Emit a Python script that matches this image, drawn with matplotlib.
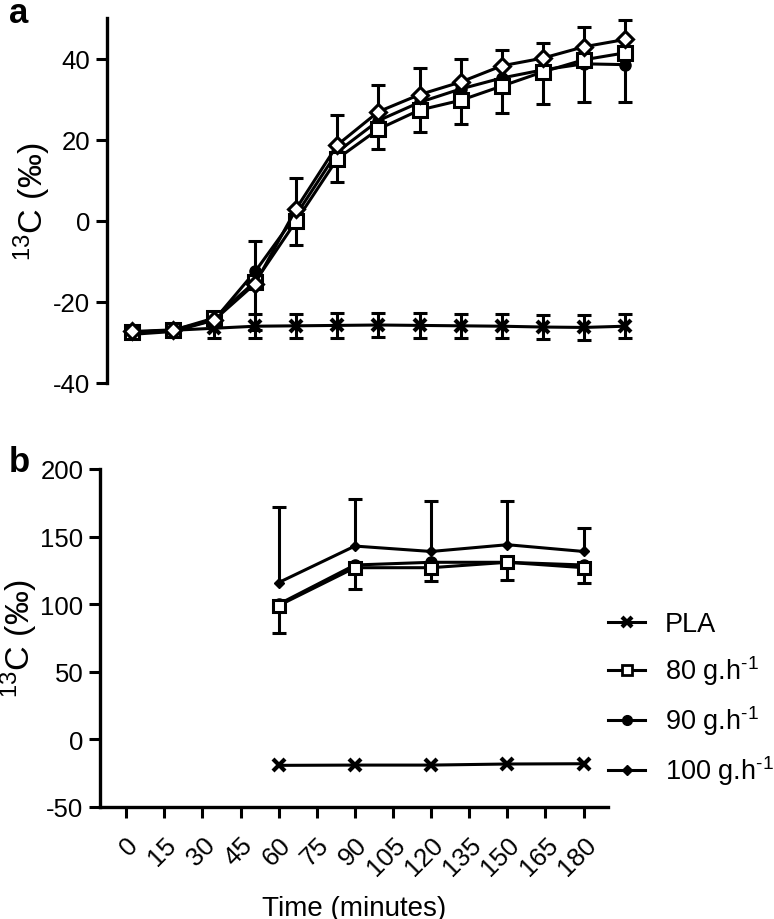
import numpy as np
import matplotlib
matplotlib.use("Agg")
import matplotlib.pyplot as plt
from matplotlib.lines import Line2D

plt.rcParams['font.family'] = ['Liberation Sans', 'DejaVu Sans']
plt.rcParams['mathtext.fontset'] = 'custom'
plt.rcParams['mathtext.rm'] = 'Liberation Sans'
plt.rcParams['mathtext.it'] = 'Liberation Sans:italic'
plt.rcParams['mathtext.bf'] = 'Liberation Sans:bold'
plt.rcParams['axes.unicode_minus'] = False

# ---------------- data ----------------
time_a = [0, 15, 30, 45, 60, 75, 90, 105, 120, 135, 150, 165, 180]
pla_a = [-27.5, -27.0, -26.5, -26.0, -25.9, -25.8, -25.7, -25.8, -25.9, -26.0, -26.2, -26.3, -26.0]
pla_a_err = [1.5, 1.5, 2.5, 3.0, 3.0, 3.0, 3.0, 3.0, 3.0, 3.0, 3.0, 3.0, 3.0]
g80_a = [-27.5, -27.0, -24.0, -15.0, 0.0, 15.3, 22.6, 27.3, 29.7, 33.2, 36.7, 39.7, 41.4]
g80_a_lo = [1.0, 1.0, 1.5, 12.0, 6.0, 5.7, 4.8, 5.5, 5.8, 6.6, 8.0, 10.5, 12.2]
g90_a = [-28.0, -27.3, -24.5, -12.5, 1.5, 17.0, 24.7, 29.2, 32.5, 35.2, 37.2, 38.7, 38.5]
g100_a = [-27.3, -26.9, -24.5, -15.5, 3.0, 18.7, 26.9, 31.1, 34.2, 38.2, 40.1, 42.9, 44.7]
g100_a_up = [1.0, 1.0, 1.5, 10.6, 7.6, 7.4, 6.5, 6.6, 5.8, 3.8, 3.8, 4.8, 4.8]

time_b = [60, 90, 120, 150, 180]
pla_b = [-19.2, -19.0, -19.0, -18.2, -18.0]
g80_b = [99, 127, 127, 131, 127]
g80_b_lo = [20.6, 16, 10, 13.4, 11.6]
g90_b = [100, 129, 131, 131, 129]
g100_b = [116, 143, 139, 144, 139]
g100_b_up = [56, 35, 37, 32, 17]

labels = ['PLA', r'80 g.h$^{\text{-1}}$', r'90 g.h$^{\text{-1}}$', r'100 g.h$^{\text{-1}}$']
xticks_b = list(range(0, 181, 15))

LW = 2.2
TICK_FS = 18.5


def one_sided(ax, x, y, d, up=True, capw=10):
    x = np.asarray(x, float)
    y = np.asarray(y, float)
    d = np.asarray(d, float)
    end = y + d if up else y - d
    ax.vlines(x, y, end, colors='black', lw=LW, zorder=1)
    ax.plot(x, end, ls='none', marker='_', ms=capw, mew=LW, color='black', zorder=1)


fig = plt.figure(figsize=(7.74, 9.2), dpi=100)

# ---------------- panel a ----------------
axa = fig.add_axes([107 / 774, 1 - 384 / 920, (660 - 107) / 774, (384 - 19) / 920])
axa.set_xlim(-9.1, 192.8)
axa.set_ylim(-40, 50)

axa.errorbar(time_a, pla_a, yerr=pla_a_err, fmt='none', ecolor='black', elinewidth=LW,
             capsize=5, capthick=LW, zorder=1)
one_sided(axa, time_a, g80_a, g80_a_lo, up=False)
one_sided(axa, time_a, g100_a, g100_a_up, up=True)

axa.plot(time_a, pla_a, color='black', lw=LW, marker='x', ms=9, mew=3, zorder=2)
axa.plot(time_a, g90_a, color='black', lw=LW, marker='o', ms=8, zorder=3)
axa.plot(time_a, g80_a, color='black', lw=LW, marker='s', ms=10, mfc='white', mew=2.2, zorder=4)
axa.plot(time_a, g100_a, color='black', lw=LW, marker='D', ms=8, mfc='white', mew=2.2, zorder=5)

for s in ['top', 'right', 'bottom']:
    axa.spines[s].set_visible(False)
axa.spines['left'].set_linewidth(2.4)
axa.set_xticks([])
axa.set_yticks([-40, -20, 0, 20, 40])
axa.tick_params(axis='y', direction='out', length=8, width=2.2, labelsize=TICK_FS, pad=4)
axa.set_ylabel(r'$^{13}$C (‰)', fontsize=24.5, labelpad=0)

# ---------------- panel b ----------------
axb = fig.add_axes([100 / 774, 1 - 808 / 920, (608 - 100) / 774, (808 - 470) / 920])
axb.set_xlim(-10.3, 189.6)
axb.set_ylim(-50, 200)

one_sided(axb, time_b, g80_b, g80_b_lo, up=False)
one_sided(axb, time_b, g100_b, g100_b_up, up=True)

axb.plot(time_b, pla_b, color='black', lw=LW, marker='x', ms=8, mew=3, zorder=2)
axb.plot(time_b, g90_b, color='black', lw=LW, marker='o', ms=8, zorder=3)
axb.plot(time_b, g80_b, color='black', lw=LW, marker='s', ms=9, mfc='white', mew=2.2, zorder=4)
axb.plot(time_b, g100_b, color='black', lw=LW, marker='D', ms=5, zorder=5)

for s in ['top', 'right']:
    axb.spines[s].set_visible(False)
axb.spines['left'].set_linewidth(2.4)
axb.spines['bottom'].set_linewidth(2.4)
axb.set_yticks([-50, 0, 50, 100, 150, 200])
axb.set_xticks(xticks_b)
axb.set_xticklabels([str(t) for t in xticks_b], rotation=45, ha='right',
                    rotation_mode='anchor')
axb.tick_params(axis='both', direction='out', length=8, width=2.2, labelsize=TICK_FS, pad=4)
axb.tick_params(axis='x', pad=10)
axb.set_ylabel(r'$^{13}$C (‰)', fontsize=24.5, labelpad=0)
axb.set_xlabel('Time (minutes)', fontsize=20, labelpad=11)

# legend
h_pla = Line2D([], [], color='black', lw=LW, marker='x', ms=7, mew=3)
h_80 = Line2D([], [], color='black', lw=LW, marker='s', ms=7, mfc='white', mew=2)
h_90 = Line2D([], [], color='black', lw=LW, marker='o', ms=7)
h_100 = Line2D([], [], color='black', lw=LW, marker='D', ms=5)
fig.legend([h_pla, h_80, h_90, h_100], labels, loc='upper left',
           bbox_to_anchor=(608 / 774, 1 - 612 / 920), frameon=False, fontsize=19.5,
           handlelength=1.37, handletextpad=0.74, labelspacing=0.6, borderaxespad=0,
           borderpad=0)

# panel labels
fig.text(9 / 774, 1 - 23 / 920, 'a', fontsize=25, fontweight='bold', va='baseline', ha='left')
fig.text(9 / 774, 1 - 472 / 920, 'b', fontsize=25, fontweight='bold', va='baseline', ha='left')

fig.savefig('out.png', dpi=100)
